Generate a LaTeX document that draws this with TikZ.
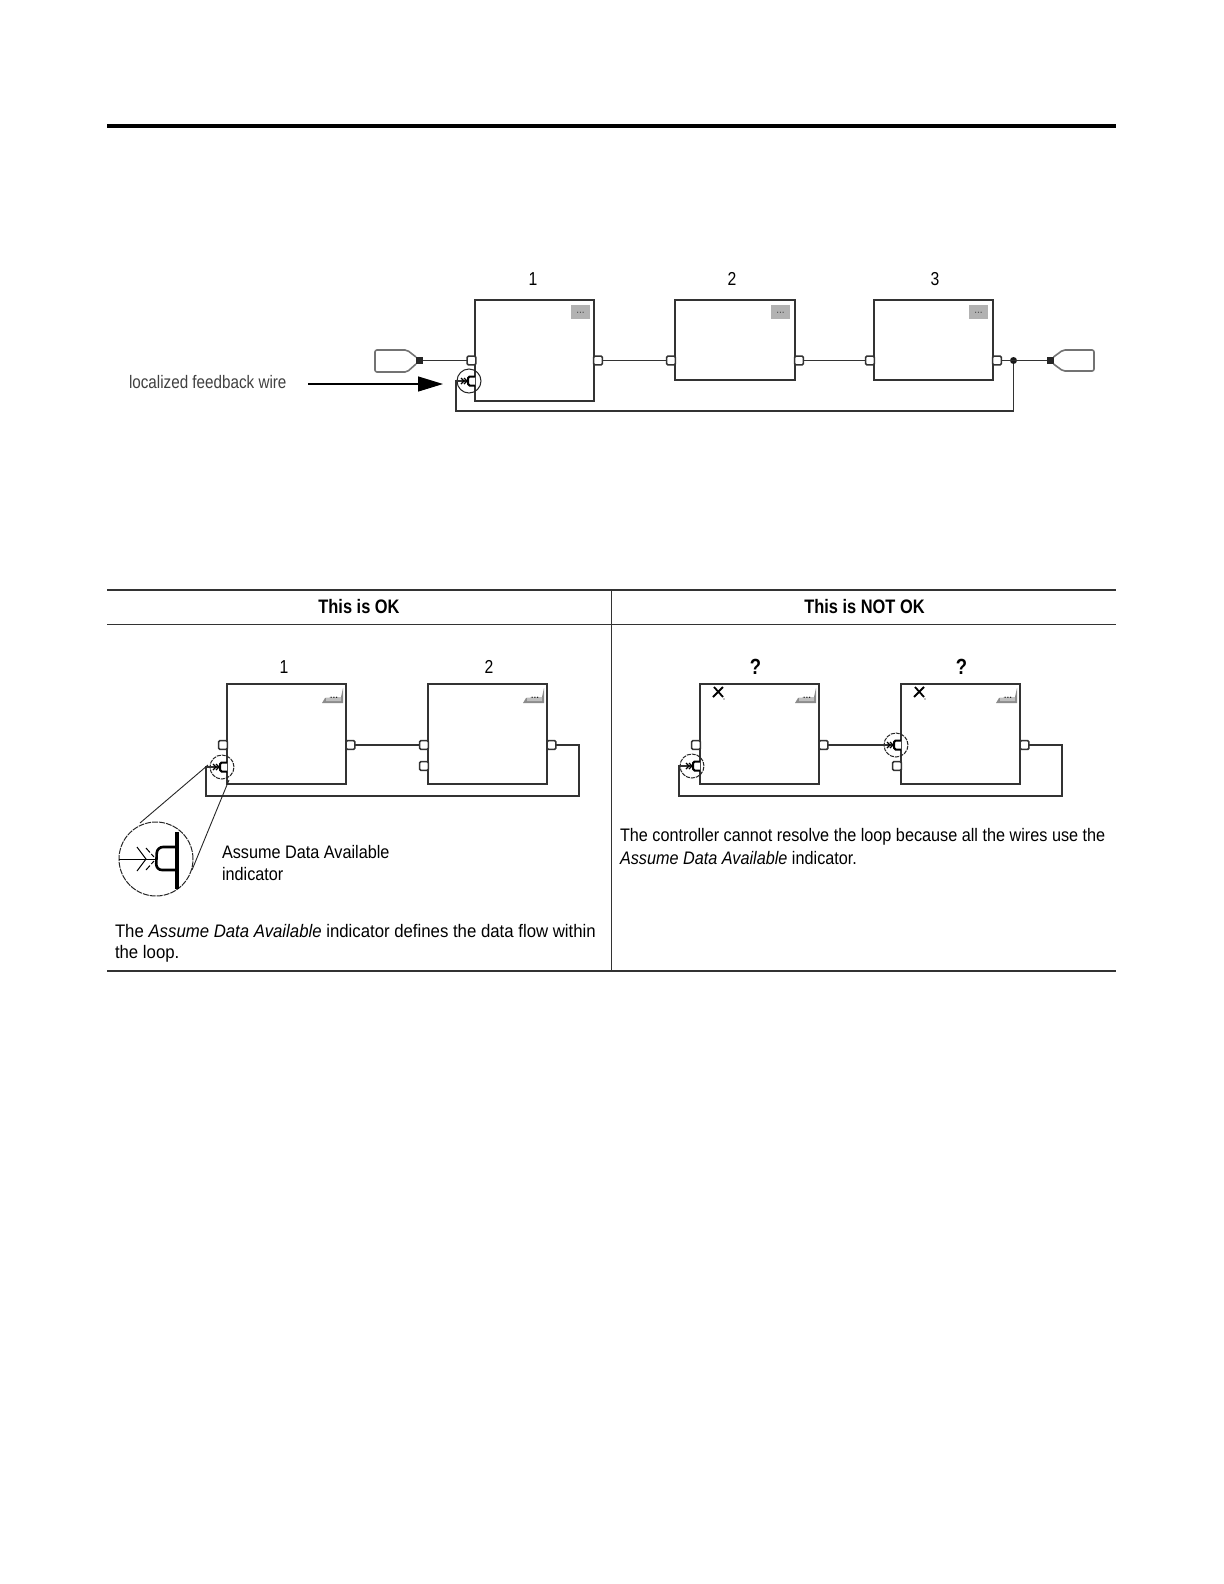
\documentclass[tikz,border=0pt]{standalone}
\usepackage{fontspec}
\setmainfont[FakeStretch=0.84]{Liberation Sans}
\newfontfamily\cellfont[FakeStretch=0.895]{Liberation Sans}
\newfontfamily\okfont[FakeStretch=0.925]{Liberation Sans}
\usetikzlibrary{arrows.meta}
\tikzset{
  fblock/.style={draw=black!80,line width=.8bp,fill=white,anchor=north west,inner sep=0,outer sep=0,minimum width=59.5bp},
  fpin/.style={draw=black!80,line width=.8bp,fill=white,rounded corners=.6bp,inner sep=0,outer sep=0,minimum width=4.4bp,minimum height=4.4bp},
  fwire/.style={black!80,line width=.75bp},
  fring/.style={circle,draw=black!85,line width=.5bp,inner sep=0,outer sep=0,minimum size=12bp},
  fsquare/.style={fill=black!85,inner sep=0,outer sep=0,minimum size=3.5bp},
  fdot/.style={circle,fill=black!90,inner sep=0,outer sep=0,minimum size=3.5bp},
  ftxt/.style={inner sep=0,outer sep=0,anchor=west,align=left,font=\cellfont\fontsize{9.1}{11.3}\selectfont},
  oktxt/.style={ftxt,font=\okfont\fontsize{9.1}{11.3}\selectfont},
  fbtxt/.style={ftxt,font=\fontsize{9.1}{11.3}\selectfont,text=black!75},
  fnum/.style={inner sep=0,outer sep=0,font=\fontsize{9.4}{11}\selectfont},
  fhead/.style={inner sep=0,outer sep=0,font=\fontsize{9.8}{11}\selectfont\bfseries},
  fquest/.style={inner sep=0,outer sep=0,font=\fontsize{11}{12}\selectfont\bfseries},
  rule/.style={black!80,line width=.7bp},
  pics/adasmall/.style={code={
    \draw[line width=.6bp] (-6,-3) -- (-3,0) -- (-6,3);
    \draw[line width=.6bp] (-3,-3) -- (0,0) -- (-3,3);
    \draw[line width=1bp,fill=white,rounded corners=.8bp] (8,-4.5) -- (1,-4.5) -- (1,4.5) -- (8,4.5);
  }},
  pics/btnstep/.style={code={
    \fill[black!45] (-21,15) -- (-18,10) -- (-2,9) -- (0,0) -- (0,15) -- cycle;
    \fill[black!25] (-17,13) -- (-2,13) -- (-2,9) -- (-17,10) -- cycle;
    \node[inner sep=0,font=\fontsize{6}{6}\selectfont] (#1) at (-9,9.5) {...};
  }},
  pics/btnflat/.style={code={
    \fill[black!30] (-19,0) rectangle (0,14);
    \node[inner sep=0,font=\fontsize{6}{6}\selectfont,text=black!70] (#1) at (-9.5,8) {...};
  }},
  pics/xmark/.style={code={
    \draw[line width=.9bp] (-4,-5) -- (5,5);
    \draw[line width=.9bp] (5,-5) -- (-5,5);
    \fill (6,7) circle (.7);
  }}
}
\begin{document}
\begin{tikzpicture}[x=.5bp,y=-.5bp]
\useasboundingbox (0,0) rectangle (1224,1584);
\fill[black] (107,124) rectangle (1116,128);

% upper diagram
\node[fblock,minimum height=50.5bp] (one) at (475,300) {};
\node[fblock,minimum height=40bp,minimum width=60bp] (two) at (675,300) {};
\node[fblock,minimum height=40bp] (three) at (874,300) {};
\pic at (590,305) {btnflat=dots1};
\pic at (790,305) {btnflat=dots2};
\pic at (988,305) {btnflat=dots3};
\node[fnum] (lab1) at (533,279) {1};
\node[fnum] (lab2) at (732,279) {2};
\node[fnum] (lab3) at (935,279) {3};
\node[fpin] (onein) at (471.5,360.5) {};
\node[fpin] (oneout) at (598,360.5) {};
\node[fpin] (twoin) at (671,360.5) {};
\node[fpin] (twoout) at (799,360.5) {};
\node[fpin] (threein) at (870,360.5) {};
\node[fpin] (threeout) at (997,360.5) {};
\node[fsquare] (tagin) at (419.5,360.5) {};
\node[fsquare] (tagout) at (1050,360.5) {};
\node[fdot] (split) at (1013.5,360.5) {};
\node[fring] (ringtop) at (469,381) {};
\coordinate (ringtopc) at (456,381);
\draw[fwire] (tagin) -- (onein);
\draw[fwire] (oneout) -- (twoin);
\draw[fwire] (twoout) -- (threein);
\draw[fwire] (threeout) -- (tagout);
\draw[fwire] (split) -- (1013.5,411) -- (456,411) -- (ringtopc) -- (ringtop.center);
\draw[black!55,line width=.8bp,rounded corners=1bp] (tagin.north west) -- (407,350) -- (375,350) -- (375,372) -- (407,372) -- (tagin.south west);
\draw[black!55,line width=.8bp,rounded corners=1bp] (tagout.north east) -- (1063,350) -- (1094,350) -- (1094,371) -- (1063,371) -- (tagout.south east);
\pic at (467,381) {adasmall};
\node[fbtxt] (fbwire) at (129,382) {localized feedback wire};
\coordinate (fbtip) at (443,384);
\coordinate (fbtail) at (308,384);
\draw[black,line width=.6bp,-{Triangle[length=12.5bp,width=7.5bp]}] (fbtail) -- (fbtip);

% table
\draw[rule] (107,590) -- (1116,590);
\draw[rule] (107,624.5) -- (1116,624.5);
\draw[rule] (107,971) -- (1116,971);
\draw[rule] (611.5,590) -- (611.5,971);
\node[fhead] (okhead) at (359,606.5) {This is OK};
\node[fhead] (nothead) at (864.5,606.5) {This is NOT OK};

% left cell
\node[fblock,minimum height=50bp] (aone) at (227,684) {};
\node[fblock,minimum height=50bp] (atwo) at (428,684) {};
\pic at (343,688) {btnstep=dots4};
\pic at (544,688) {btnstep=dots5};
\node[fnum] (alab1) at (284,667) {1};
\node[fnum] (alab2) at (489,667) {2};
\node[fpin] (aonein) at (223,745) {};
\node[fpin] (aoneout) at (350.5,745) {};
\node[fpin] (atwoin) at (424,745) {};
\node[fpin] (atwolow) at (424,766) {};
\node[fpin] (atwoout) at (551.5,745) {};
\node[fring,dashed,dash pattern=on 2bp off .5bp] (aring) at (222,767) {};
\draw[fwire] (aoneout) -- (atwoin);
\draw[fwire] (atwoout) -- (579,745) -- (579,796) -- (206,796) -- (206,767) -- (aring.center);
\pic at (219,767) {adasmall};
\node[fring,dashed,dash pattern=on 3bp off .5bp,minimum size=37bp] (zoomring) at (156,859) {};
\draw[black!85,line width=.45bp] (208,765) -- (140,823);
\draw[black!85,line width=.45bp] (229,780) -- (192,870);
\draw[line width=.5bp] (119,859) -- (156,859);
\draw[line width=.5bp] (137,847) -- (146,859) -- (137,871);
\draw[line width=.5bp,dash pattern=on 3bp off 1bp] (146,848) -- (154,857);
\draw[line width=.5bp,dash pattern=on 3bp off 1bp] (146,870) -- (154,861);
\draw[line width=1.3bp,fill=white,rounded corners=3bp] (177,847) -- (157,847) -- (156,870) -- (177,870);
\draw[line width=1.6bp] (177,832) -- (177,889);
\node[ftxt] (adalabel) at (222,852) {Assume Data Available};
\node[ftxt] (adalabel2) at (222,874) {indicator};
\node[oktxt] (oktext) at (115,931) {The \textit{Assume Data Available} indicator defines the data flow within};
\node[oktxt] (oktext2) at (115,954) {the loop.};

% right cell
\node[fblock,minimum height=50bp] (bone) at (700,684) {};
\node[fblock,minimum height=50bp] (btwo) at (901,684) {};
\pic at (816,688) {btnstep=dots6};
\pic at (1017,688) {btnstep=dots7};
\pic at (718,692) {xmark};
\pic at (919,692) {xmark};
\node[fquest] (blab1) at (755.5,667) {?};
\node[fquest] (blab2) at (961.5,667) {?};
\node[fpin] (bonein) at (696,745) {};
\node[fpin] (boneout) at (823.5,745) {};
\node[fpin] (btwolow) at (897,766) {};
\node[fpin] (btwoout) at (1024.5,745) {};
\node[fring,dashed,dash pattern=on 2bp off .5bp] (bring) at (692,766) {};
\node[fring,dashed,dash pattern=on 2bp off .5bp] (cring) at (896,745) {};
\draw[fwire] (boneout) -- (cring.center);
\draw[fwire] (btwoout) -- (1062,745) -- (1062,796) -- (679,796) -- (679,766) -- (bring.center);
\pic at (692,766) {adasmall};
\pic at (893,745) {adasmall};
\node[ftxt] (nottext) at (620,837) {The controller cannot resolve the loop because all the wires use the};
\node[ftxt] (nottext2) at (620,858) {\textit{Assume Data Available} indicator.};
\end{tikzpicture}
\end{document}
